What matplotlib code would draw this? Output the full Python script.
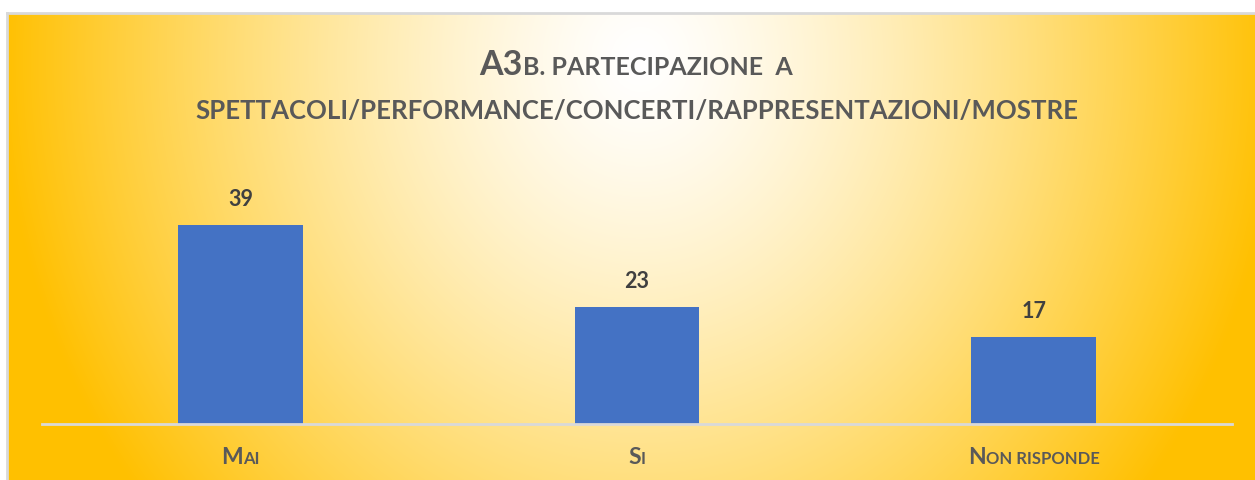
import numpy as np
import matplotlib
matplotlib.use("Agg")
import matplotlib.pyplot as plt
from matplotlib.transforms import IdentityTransform

# data
categories = ["Mai", "Si", "Non risponde"]
values = [39, 23, 17]
# small-caps split: (capital part, lowercase part rendered as small capitals)
cat_parts = [("M", "AI"), ("S", "I"), ("N", "ON RISPONDE")]
title_line1 = [("A3", 24.5), ("B. PARTECIPAZIONE  A", 18)]
title_line2 = [("SPETTACOLI/PERFORMANCE/CONCERTI/RAPPRESENTAZIONI/MOSTRE", 18.5)]

W, H = 1255, 481
FONT = "Lato"
BAR = "#4472C4"
GREY = "#595959"

fig = plt.figure(figsize=(W / 100, H / 100), dpi=100)
fig.patch.set_facecolor("white")

# radial white -> gold background
x0, y0 = 7, 14
bg = fig.add_axes([x0 / W, 0, (W - x0) / W, (H - y0) / H])
xs = np.arange(x0, W)
ys = np.arange(y0, H)
X, Y = np.meshgrid(xs, ys)
t = np.sqrt(((X - 640) / 640.0) ** 2 + ((Y - 60) / 700.0) ** 2)
t = np.clip(t, 0, 1) ** 1.35
white = np.array([1.0, 1.0, 1.0])
gold = np.array([1.0, 192 / 255, 0.0])
img = white[None, None, :] * (1 - t[..., None]) + gold[None, None, :] * t[..., None]
bg.imshow(img, extent=(x0, W, H, y0), aspect="auto", interpolation="bilinear")
bg.set_xlim(x0, W)
bg.set_ylim(H, y0)
bg.set_xticks([])
bg.set_yticks([])
for side in ["right", "bottom"]:
    bg.spines[side].set_visible(False)
for side in ["top", "left"]:
    bg.spines[side].set_color("#D9D9D9")
    bg.spines[side].set_linewidth(2)

# bar axes
left, right = 42, 1232
base, top = 425, 425 - 45 * 5.1
ax = fig.add_axes([left / W, 1 - base / H, (right - left) / W, (base - top) / H])
ax.patch.set_alpha(0)
ax.bar(range(len(values)), values, width=0.315, color=BAR)
ax.set_xlim(-0.5, len(values) - 0.5)
ax.set_ylim(0, 45)
ax.set_xticks([])
ax.set_yticks([])
for side in ["top", "left", "right"]:
    ax.spines[side].set_visible(False)
ax.spines["bottom"].set_color("#D9D9D9")
ax.spines["bottom"].set_linewidth(2)

for i, v in enumerate(values):
    ax.annotate(str(v), (i, v), xytext=(0, 14.5), textcoords="offset points",
                ha="center", va="baseline", fontsize=15.5, fontweight="bold",
                family=FONT, color="#404040")

renderer = fig.canvas.get_renderer()


def smallcaps(xc, yb, parts, color=GREY):
    """Draw pieces of text side by side, centred at xc with baseline yb (pixels from top)."""
    texts = [fig.text(0, 0, s, fontsize=size, fontweight="bold", family=FONT,
                      color=color, ha="left", va="baseline",
                      transform=IdentityTransform()) for s, size in parts]
    widths = [t.get_window_extent(renderer).width for t in texts]
    x = xc - sum(widths) / 2
    for t, w in zip(texts, widths):
        t.set_position((x, H - yb))
        x += w


smallcaps(636, 75, title_line1)
smallcaps(637, 119, title_line2)

for i, (big, small) in enumerate(cat_parts):
    xc = ax.transData.transform((i, 0))[0]
    smallcaps(xc, 464, [(big, 16.5), (small, 12)])

fig.savefig("out.png", dpi=100)
plt.close(fig)
